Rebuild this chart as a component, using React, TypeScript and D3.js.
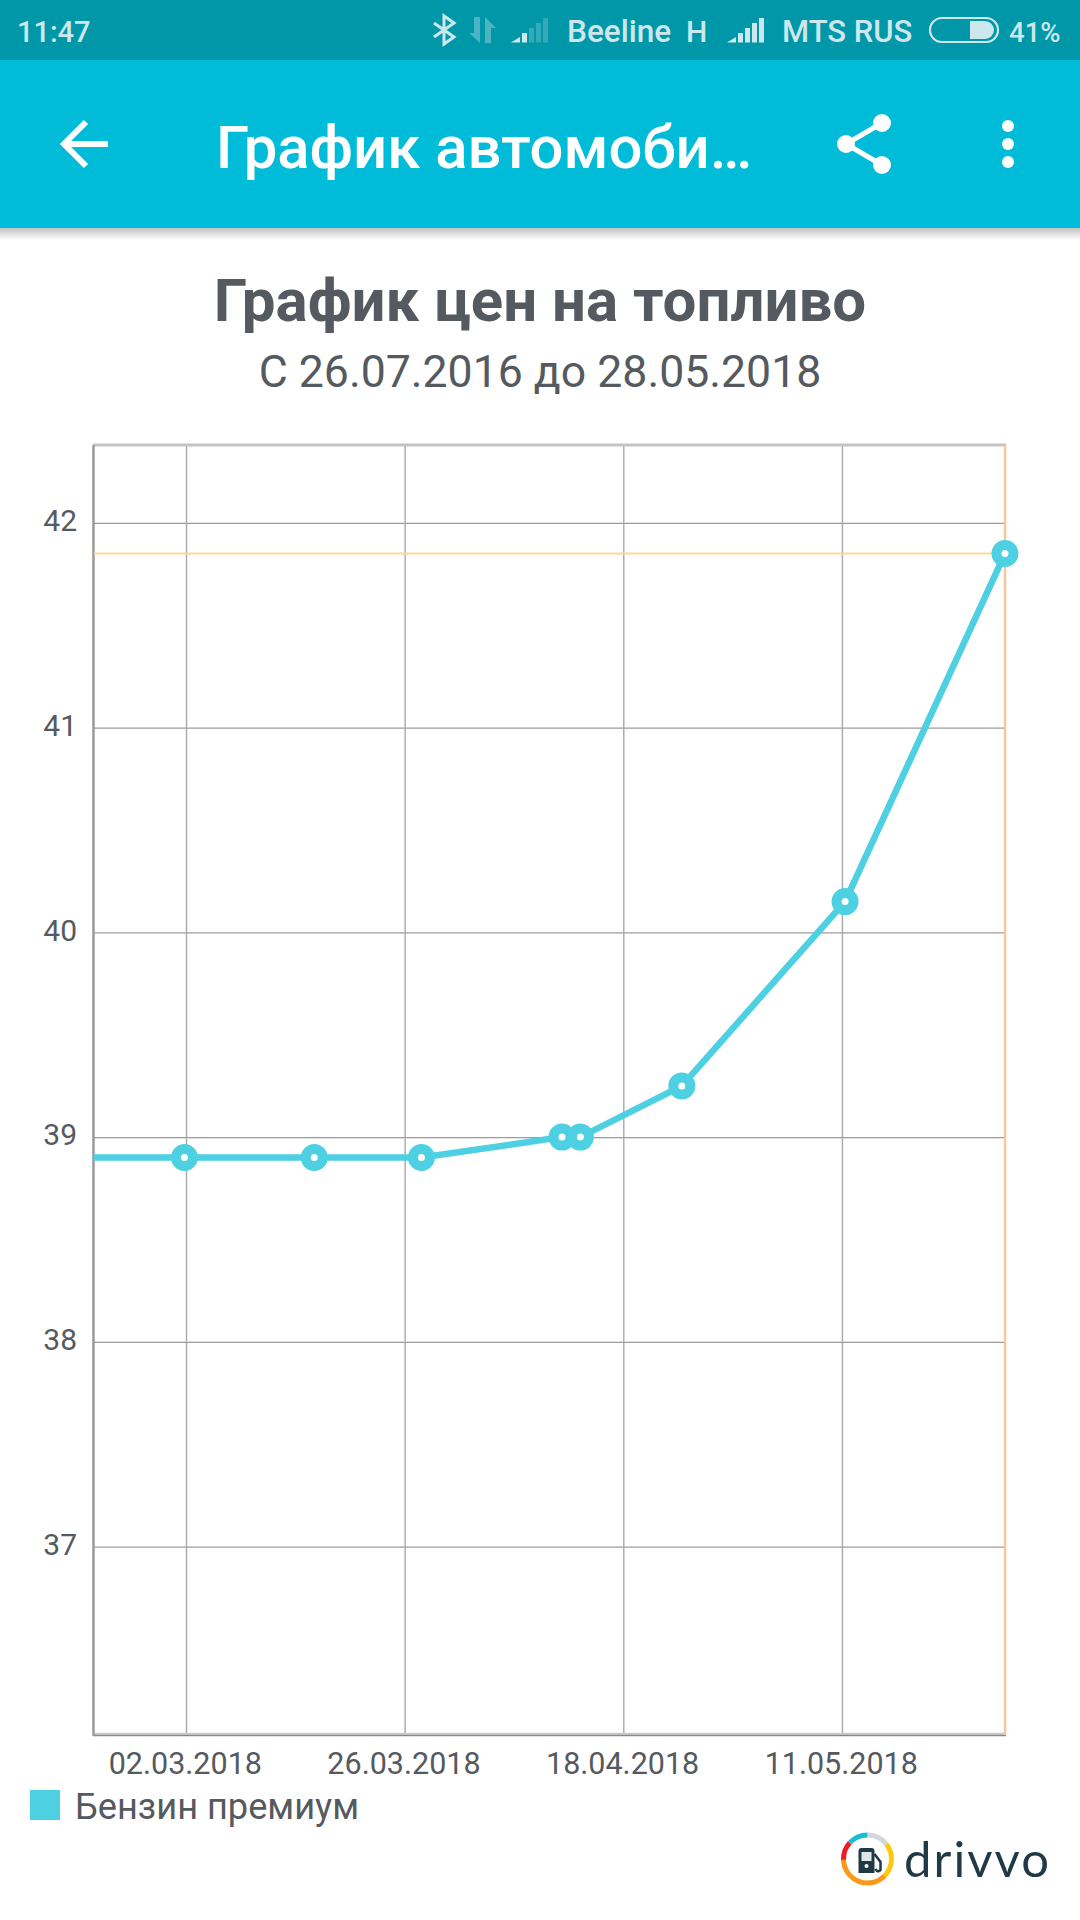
import React, { useEffect, useRef } from 'react';
import * as d3 from 'd3';

const priceDates = [
  '2018-02-21T00:20:00Z',
  '2018-03-02T16:00:00Z',
  '2018-03-16T12:30:00Z',
  '2018-03-27T23:00:00Z',
  '2018-04-11T23:00:00Z',
  '2018-04-13T22:00:00Z',
  '2018-04-24T18:00:00Z',
  '2018-05-12T04:00:00Z',
  '2018-05-29T05:40:00Z',
];
const priceValues = [38.9, 38.9, 38.9, 38.9, 39, 39, 39.25, 40.15, 41.85];
const xTickDates = [
  '2018-03-02T20:00:00Z',
  '2018-03-26T04:00:00Z',
  '2018-04-18T12:00:00Z',
  '2018-05-11T20:00:00Z',
];
const yTickValues = [37, 38, 39, 40, 41, 42];
const yDomain = [36.08, 42.38];
const chartTitle = 'График цен на топливо';
const chartSubtitle = 'С 26.07.2016 до 28.05.2018';
const legendLabel = 'Бензин премиум';
const logoSegments = [
  { from: 0, to: 52, color: '#d3d6da' },
  { from: 52, to: 135, color: '#fdc90f' },
  { from: 135, to: 268, color: '#f8991d' },
  { from: 268, to: 312, color: '#ee1c25' },
  { from: 312, to: 360, color: '#1bbcd6' },
];

const left = 94;
const right = 1005;
const top = 445;
const bottom = 1735;
const cyan = '#4dd0e1';
const textGrey = '#555a60';
const font = 'Roboto, sans-serif';

const parsed = priceDates.map((d) => new Date(d));
const x = d3.scaleUtc().domain([parsed[0], parsed[parsed.length - 1]]).range([left, right]);
const y = d3.scaleLinear().domain(yDomain).range([bottom, top]);

export default function App() {
  const plotRef = useRef<SVGGElement | null>(null);

  useEffect(() => {
    if (!plotRef.current) return;
    const g = d3.select(plotRef.current);
    g.selectAll('*').remove();

    // grid lines and tick labels come out of d3's axes
    const yAxis = d3.axisLeft(y).tickValues(yTickValues).tickSize(-(right - left)).tickPadding(17).tickFormat((d) => String(d));
    const yG = g.append('g').attr('transform', `translate(${left},0)`).call(yAxis);
    yG.select('.domain').remove();
    yG.selectAll('.tick line').attr('stroke', '#9c9c9c').attr('stroke-width', 1.2);
    yG.selectAll('.tick text').attr('fill', textGrey).attr('font-size', 30).attr('font-family', font).attr('dy', '0.26em');

    const xAxis = d3
      .axisBottom(x)
      .tickValues(xTickDates.map((d) => new Date(d)))
      .tickSize(-(bottom - top))
      .tickPadding(17)
      .tickFormat((d) => d3.utcFormat('%d.%m.%Y')(d as Date));
    const xG = g.append('g').attr('transform', `translate(0,${bottom})`).call(xAxis);
    xG.select('.domain').remove();
    xG.selectAll('.tick line').attr('stroke', '#a8a8a8').attr('stroke-width', 1.4);
    xG.selectAll('.tick text').attr('fill', textGrey).attr('font-size', 30.5).attr('font-family', font).attr('dx', -1.2);

    // frame
    g.append('line').attr('x1', left - 1).attr('x2', right + 1).attr('y1', top).attr('y2', top).attr('stroke', '#c4c4c4').attr('stroke-width', 3);
    g.append('line').attr('x1', left - 1).attr('x2', right + 1).attr('y1', bottom - 1).attr('y2', bottom - 1).attr('stroke', '#cccccc').attr('stroke-width', 2.5);
    g.append('line').attr('x1', left - 1).attr('x2', right + 1).attr('y1', bottom + 0.5).attr('y2', bottom + 0.5).attr('stroke', '#8a8a8a').attr('stroke-width', 1.5);
    g.append('line').attr('x1', left - 0.5).attr('x2', left - 0.5).attr('y1', top).attr('y2', bottom + 1).attr('stroke', '#9a9a9a').attr('stroke-width', 2.5);

    // last value crosshair
    const lastX = x(parsed[parsed.length - 1]);
    const lastY = y(priceValues[priceValues.length - 1]);
    g.append('line').attr('x1', left).attr('x2', lastX).attr('y1', lastY).attr('y2', lastY).attr('stroke', '#ffd5a3').attr('stroke-width', 2);
    g.append('line').attr('x1', lastX).attr('x2', lastX).attr('y1', top).attr('y2', bottom).attr('stroke', '#f8c698').attr('stroke-width', 2.5);

    const points = parsed.map((d, i) => ({ date: d, value: priceValues[i] }));
    const line = d3.line<{ date: Date; value: number }>().x((d) => x(d.date)).y((d) => y(d.value));
    g.append('path').datum(points).attr('d', line).attr('fill', 'none').attr('stroke', cyan).attr('stroke-width', 6.5);

    // first point is only the run-in from before the visible range
    g.selectAll('circle.pt')
      .data(points.slice(1))
      .join('circle')
      .attr('class', 'pt')
      .attr('cx', (d) => x(d.date))
      .attr('cy', (d) => y(d.value))
      .attr('r', 8.5)
      .attr('fill', '#ffffff')
      .attr('stroke', cyan)
      .attr('stroke-width', 10);
  }, []);

  const logoArc = d3.arc();
  const signal = (dx: number, rest: string) => (
    <g transform={`translate(${dx},0)`}>
      <path d="M511 42.5 L520 37 V42.5 Z" fill="#cde8ec" />
      <rect x={522} y={33} width={5} height={9.5} fill="#cde8ec" />
      <rect x={529} y={28} width={5} height={14.5} fill={rest} />
      <rect x={536} y={23} width={5} height={19.5} fill={rest} />
      <rect x={543} y={18} width={5} height={24.5} fill={rest} />
    </g>
  );

  return (
    <svg width={1080} height={1920} style={{ position: 'absolute', left: 0, top: 0, background: '#ffffff' }}>
      <defs>
        <linearGradient id="barShadow" x1="0" y1="0" x2="0" y2="1">
          <stop offset="0" stopColor="#000" stopOpacity={0.24} />
          <stop offset="1" stopColor="#000" stopOpacity={0} />
        </linearGradient>
      </defs>

      {/* status bar */}
      <rect x={0} y={0} width={1080} height={60} fill="#0097a9" />
      <rect x={0} y={60} width={1080} height={168} fill="#00bcd8" />
      <rect x={0} y={228} width={1080} height={12} fill="url(#barShadow)" />
      <g fontFamily={font} fontWeight={500} fontSize={29} fill="#cde8ec">
        <text x={17} y={42}>11:47</text>
        <text x={567} y={42} fontSize={31.5}>Beeline</text>
        <text x={686} y={42} fontSize={30}>H</text>
        <text x={782} y={42} fontSize={31}>MTS RUS</text>
        <text x={1009} y={42} fontSize={27.5}>41%</text>
      </g>
      <path d="M434 23 L454 37 L444 44 V16 L454 23 L434 37" fill="none" stroke="#cde8ec" strokeWidth={3} />
      <path d="M474 17 H480 V43 L469 33 H474 Z M485 17 L496 28 H491 V43 H485 Z" fill="#4db3c2" />
      {signal(0, '#33a9ba')}
      {signal(216, '#cde8ec')}
      <rect x={930} y={18} width={68} height={24} rx={12} fill="none" stroke="#cde8ec" strokeWidth={2.2} />
      <path d="M970 21 H985 A9 9 0 0 1 985 39 H970 Z" fill="#cde8ec" />

      {/* app bar */}
      <path d="M86 122 L64 144 L86 166 M64 144 H108" fill="none" stroke="#ffffff" strokeWidth={6} />
      <text x={216} y={168} fontFamily={font} fontWeight={500} fontSize={59.8} fill="#ffffff">График автомоби…</text>
      <path d="M882 123 L846 144 L882 165" fill="none" stroke="#ffffff" strokeWidth={5} />
      <circle cx={882} cy={123} r={9} fill="#ffffff" />
      <circle cx={846} cy={144} r={9} fill="#ffffff" />
      <circle cx={882} cy={165} r={9} fill="#ffffff" />
      <circle cx={1008} cy={126} r={6} fill="#ffffff" />
      <circle cx={1008} cy={144} r={6} fill="#ffffff" />
      <circle cx={1008} cy={162} r={6} fill="#ffffff" />

      {/* titles */}
      <text x={540} y={321} textAnchor="middle" fontFamily={font} fontWeight={700} fontSize={60} fill={textGrey}>{chartTitle}</text>
      <text x={540} y={387} textAnchor="middle" fontFamily={font} fontSize={44.6} fill={textGrey}>{chartSubtitle}</text>

      <g ref={plotRef} />

      {/* legend */}
      <rect x={30} y={1790} width={30} height={30} fill={cyan} />
      <text x={75} y={1819} fontFamily={font} fontSize={36.2} fill={textGrey}>{legendLabel}</text>

      {/* logo */}
      <g transform="translate(867.5,1859)">
        {logoSegments.map((s) => (
          <path
            key={s.from}
            fill={s.color}
            d={logoArc({
              innerRadius: 21.5,
              outerRadius: 26.5,
              startAngle: (s.from * Math.PI) / 180,
              endAngle: (s.to * Math.PI) / 180,
            }) ?? ''}
          />
        ))}
        <path d="M-9 -8 Q-9 -11 -6 -11 H4 Q7 -11 7 -8 V14 H-9 Z" fill="#1f3a46" />
        <rect x={-6} y={-7} width={10} height={9} fill="#dfe6e8" />
        <circle cx={-1} cy={7} r={2} fill="#ffffff" />
        <path d="M7 -5 L13 3 V11 Q10 14 8 10" fill="none" stroke="#1f3a46" strokeWidth={2.5} />
      </g>
      <text x={904} y={1877} fontFamily="Lato, sans-serif" fontSize={49} fill="#1f3a46" textLength={145} lengthAdjust="spacing">drivvo</text>
    </svg>
  );
}
